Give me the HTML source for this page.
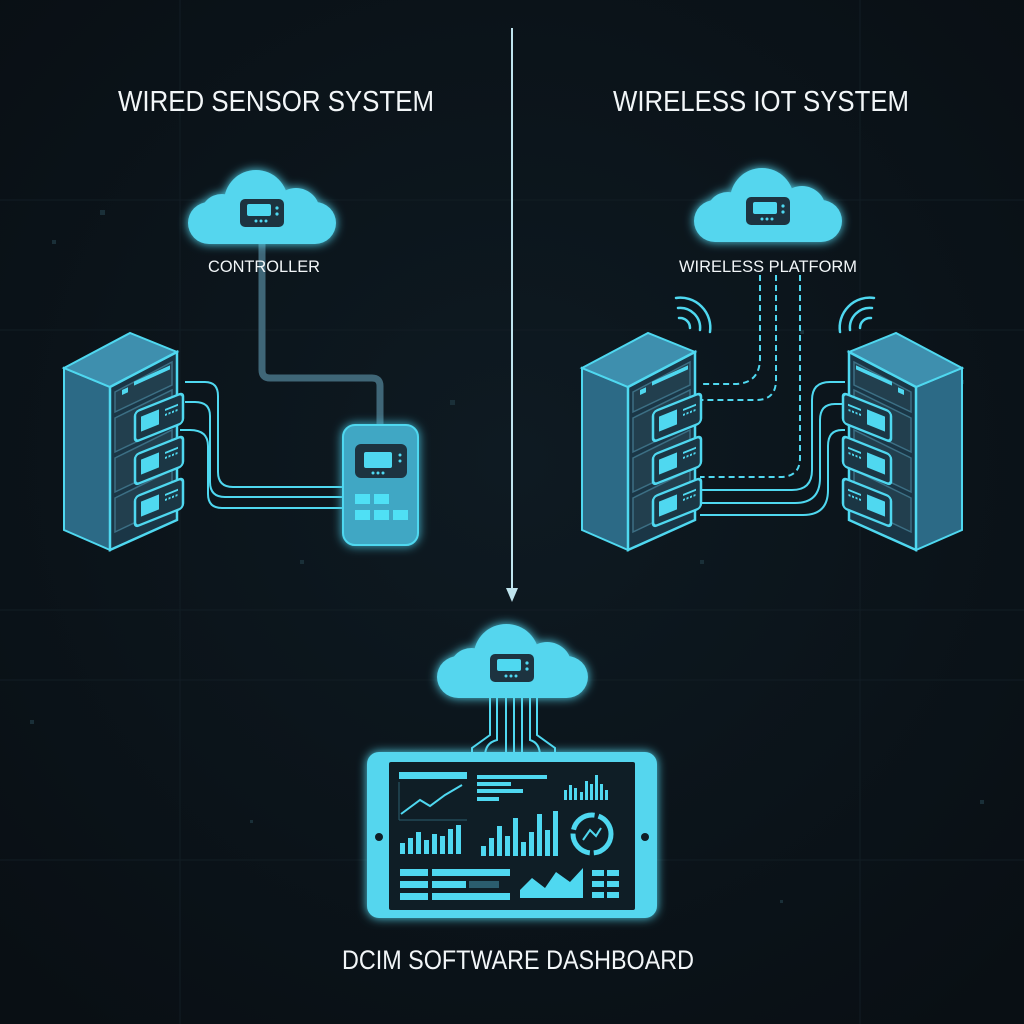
<!DOCTYPE html>
<html><head><meta charset="utf-8"><style>
html,body{margin:0;padding:0;background:#0a1117;}
svg{display:block;}
text{font-family:"Liberation Sans",sans-serif;fill:#f2f6f8;}
</style></head><body>
<svg width="1024" height="1024" viewBox="0 0 1024 1024" xmlns="http://www.w3.org/2000/svg">
<defs>
<radialGradient id="bg" cx="50%" cy="45%" r="70%"><stop offset="0" stop-color="#0e1a22"/><stop offset="1" stop-color="#090f14"/></radialGradient>
<filter id="glow" x="-30%" y="-30%" width="160%" height="160%"><feGaussianBlur stdDeviation="5" result="b"/><feMerge><feMergeNode in="b"/><feMergeNode in="SourceGraphic"/></feMerge></filter>
<g id="dev">
 <rect x="-22" y="-14" width="44" height="28" rx="5" fill="#1d3340"/>
 <rect x="-15" y="-9" width="24" height="12" rx="2" fill="#4fd8f0"/>
 <circle cx="15" cy="-5" r="1.6" fill="#4fd8f0"/><circle cx="15" cy="1" r="1.6" fill="#4fd8f0"/>
 <circle cx="-6" cy="8" r="1.5" fill="#4fd8f0"/><circle cx="-1" cy="8" r="1.5" fill="#4fd8f0"/><circle cx="4" cy="8" r="1.5" fill="#4fd8f0"/>
</g>
<g id="cloud" fill="#55d6ee">
 <rect x="0" y="34" width="148" height="42" rx="21"/>
 <circle cx="68" cy="34" r="32"/>
 <circle cx="108" cy="44" r="24"/>
 <circle cx="34" cy="48" r="22"/>
</g>
<g id="module">
 <rect x="0" y="0" width="48" height="30" rx="4" fill="#1b3644" stroke="#4fd8f0" stroke-width="2.5"/>
 <rect x="6" y="7" width="18" height="15" fill="#4fd8f0"/>
 <line x1="30" y1="10" x2="43" y2="10" stroke="#4fd8f0" stroke-width="2"/>
 <line x1="30" y1="15" x2="43" y2="15" stroke="#4fd8f0" stroke-width="2" stroke-dasharray="2 1.5"/>
</g>
<g id="rack">
 <polygon points="64,368 110,387 110,550 64,530" fill="#2c6a86" stroke="#4fd8f0" stroke-width="2"/>
 <polygon points="64,368 130,333 177,352 110,387" fill="#3e8fae" stroke="#4fd8f0" stroke-width="2"/>
 <polygon points="110,387 177,352 177,520 110,550" fill="#1a3646" stroke="#4fd8f0" stroke-width="2.5"/>
 <g stroke="#3c6f84" stroke-width="1.5" fill="#223f4e">
  <polygon points="115,392 172,362 172,385 115,412"/>
  <polygon points="115,418 172,390 172,425 115,452"/>
  <polygon points="115,458 172,430 172,465 115,492"/>
  <polygon points="115,498 172,470 172,505 115,532"/>
 </g>
 <g transform="translate(122,390) matrix(1,-0.45,0,1,0,0)"><rect x="0" y="0" width="6" height="5" fill="#4fd8f0"/><rect x="12" y="-3" width="36" height="4" fill="#4fd8f0"/></g>
 <g transform="translate(135,412) matrix(1,-0.4,0,1,0,0)"><use href="#module"/></g>
 <g transform="translate(135,455) matrix(1,-0.4,0,1,0,0)"><use href="#module"/></g>
 <g transform="translate(135,497) matrix(1,-0.4,0,1,0,0)"><use href="#module"/></g>
</g>
</defs>
<rect width="1024" height="1024" fill="url(#bg)"/>
<g stroke="#121d24" stroke-width="1">
 <line x1="0" y1="200" x2="1024" y2="200"/><line x1="0" y1="330" x2="1024" y2="330"/><line x1="0" y1="610" x2="1024" y2="610"/><line x1="0" y1="680" x2="1024" y2="680"/><line x1="0" y1="860" x2="1024" y2="860"/>
 <line x1="180" y1="0" x2="180" y2="1024"/><line x1="860" y1="0" x2="860" y2="1024"/>
</g>
<g fill="#1a2f38">
 <rect x="100" y="210" width="5" height="5"/><rect x="52" y="240" width="4" height="4"/><rect x="450" y="400" width="5" height="5"/><rect x="800" y="330" width="4" height="4"/><rect x="960" y="380" width="4" height="4"/><rect x="300" y="560" width="4" height="4"/><rect x="700" y="560" width="4" height="4"/><rect x="30" y="720" width="4" height="4"/><rect x="980" y="800" width="4" height="4"/><rect x="250" y="820" width="3" height="3"/><rect x="780" y="900" width="3" height="3"/>
</g>

<line x1="512" y1="28" x2="512" y2="590" stroke="#bfe4ee" stroke-width="2"/>
<polygon points="506,588 518,588 512,602" fill="#bfe4ee"/>

<text x="276" y="111" font-size="29" text-anchor="middle" textLength="316" lengthAdjust="spacingAndGlyphs">WIRED SENSOR SYSTEM</text>
<text x="761" y="111" font-size="29" text-anchor="middle" textLength="296" lengthAdjust="spacingAndGlyphs">WIRELESS IOT SYSTEM</text>

<path d="M262,240 V370 Q262,378 270,378 H372 Q380,378 380,386 V428" fill="none" stroke="#3f6677" stroke-width="7"/>
<g filter="url(#glow)"><use href="#cloud" transform="translate(188,168)"/></g>
<use href="#dev" transform="translate(262,213)"/>
<text x="264" y="272" font-size="17" text-anchor="middle" textLength="112" lengthAdjust="spacingAndGlyphs">CONTROLLER</text>

<g fill="none" stroke="#4fd8f0" stroke-width="2">
 <path d="M185,382 H205 Q218,382 218,396 V472 Q218,487 233,487 H345"/>
 <path d="M185,402 H195 Q210,402 210,416 V482 Q210,497 225,497 H345"/>
 <path d="M180,430 H190 Q208,430 208,446 V494 Q208,508 222,508 H345"/>
</g>
<use href="#rack"/>
<g filter="url(#glow)">
 <rect x="343" y="425" width="75" height="120" rx="12" fill="#3fa7c4" stroke="#4fd8f0" stroke-width="2"/>
</g>
<rect x="355" y="444" width="52" height="34" rx="6" fill="#1d3340"/>
<rect x="364" y="452" width="28" height="16" rx="2" fill="#4fd8f0"/>
<circle cx="400" cy="455" r="1.5" fill="#4fd8f0"/><circle cx="400" cy="461" r="1.5" fill="#4fd8f0"/>
<circle cx="373" cy="473" r="1.5" fill="#4fd8f0"/><circle cx="378" cy="473" r="1.5" fill="#4fd8f0"/><circle cx="383" cy="473" r="1.5" fill="#4fd8f0"/>
<g fill="#4fe0f5">
 <rect x="355" y="494" width="15" height="10"/><rect x="374" y="494" width="15" height="10"/>
 <rect x="355" y="510" width="15" height="10"/><rect x="374" y="510" width="15" height="10"/><rect x="393" y="510" width="15" height="10"/>
</g>

<g filter="url(#glow)"><use href="#cloud" transform="translate(694,166)"/></g>
<use href="#dev" transform="translate(768,211)"/>
<text x="768" y="272" font-size="17" text-anchor="middle" textLength="178" lengthAdjust="spacingAndGlyphs">WIRELESS PLATFORM</text>
<g fill="none" stroke="#4fd8f0" stroke-width="2" stroke-dasharray="6 4">
 <path d="M760,275 V358 Q760,384 734,384 H700"/>
 <path d="M776,275 V380 Q776,400 756,400 H700"/>
</g>
<g fill="none" stroke="#4fd8f0" stroke-width="2">
 <path d="M800,275 V458 Q800,477 780,477 H700" stroke-dasharray="6 4"/>
 <path d="M845,382 H830 Q812,382 812,400 V470 Q812,490 792,490 H700"/>
 <path d="M845,404 H835 Q820,404 820,420 V478 Q820,503 795,503 H700"/>
 <path d="M845,430 H842 Q828,430 828,446 V490 Q828,515 803,515 H700"/>
</g>
<use href="#rack" transform="translate(518,0)"/>
<use href="#rack" transform="translate(1026,0) scale(-1,1)"/>
<g fill="none" stroke="#4fd8f0" stroke-width="2.5" stroke-linecap="round">
 <path d="M679,318 A10,10 0 0 1 690,328"/><path d="M678,308 A20,20 0 0 1 700,330"/><path d="M676,298 A30,30 0 0 1 710,332"/>
 <path d="M860,328 A10,10 0 0 1 871,318"/><path d="M850,330 A20,20 0 0 1 872,308"/><path d="M840,332 A30,30 0 0 1 874,298"/>
</g>

<g fill="none" stroke="#4fd8f0" stroke-width="2">
 <path d="M490,690 V735 L472,748 V756"/>
 <path d="M497,690 V740 Q485,743 485,756"/>
 <path d="M506,690 V756"/><path d="M514,690 V756"/><path d="M522,690 V756"/>
 <path d="M530,690 V740 Q540,743 540,756"/>
 <path d="M537,690 V735 L555,748 V756"/>
</g>
<g filter="url(#glow)"><use href="#cloud" transform="translate(437,622) scale(1.02,1)"/></g>
<use href="#dev" transform="translate(512,668)"/>

<g filter="url(#glow)"><rect x="367" y="752" width="290" height="166" rx="12" fill="#55d6ee"/></g>
<rect x="389" y="762" width="246" height="148" rx="2" fill="#0f1e26"/>
<circle cx="379" cy="837" r="4" fill="#0f1e26"/><circle cx="645" cy="837" r="4" fill="#0f1e26"/>
<g fill="#4fd8f0">
 <rect x="399" y="772" width="68" height="7"/>
 <rect x="477" y="775" width="70" height="4"/><rect x="477" y="782" width="34" height="4"/><rect x="477" y="789" width="46" height="4"/><rect x="477" y="797" width="22" height="4"/>
 <rect x="564" y="790" width="3" height="10"/><rect x="569" y="785" width="3" height="15"/><rect x="574" y="788" width="3" height="12"/><rect x="580" y="792" width="3" height="8"/><rect x="585" y="781" width="3" height="19"/><rect x="590" y="784" width="3" height="16"/><rect x="595" y="775" width="3" height="25"/><rect x="600" y="784" width="3" height="16"/><rect x="605" y="790" width="3" height="10"/>
 <rect x="400" y="843" width="5" height="11"/><rect x="408" y="838" width="5" height="16"/><rect x="416" y="832" width="5" height="22"/><rect x="424" y="840" width="5" height="14"/><rect x="432" y="834" width="5" height="20"/><rect x="440" y="836" width="5" height="18"/><rect x="448" y="829" width="5" height="25"/><rect x="456" y="825" width="5" height="29"/>
 <rect x="481" y="846" width="5" height="10"/><rect x="489" y="838" width="5" height="18"/><rect x="497" y="826" width="5" height="30"/><rect x="505" y="836" width="5" height="20"/><rect x="513" y="818" width="5" height="38"/><rect x="521" y="842" width="5" height="14"/><rect x="529" y="832" width="5" height="24"/><rect x="537" y="814" width="5" height="42"/><rect x="545" y="830" width="5" height="26"/><rect x="553" y="811" width="5" height="45"/>
 <rect x="400" y="869" width="28" height="7"/><rect x="432" y="869" width="78" height="7"/>
 <rect x="400" y="881" width="28" height="7"/><rect x="432" y="881" width="34" height="7"/><rect x="469" y="881" width="30" height="7" fill="#2b5d6e"/>
 <rect x="400" y="893" width="28" height="7"/><rect x="432" y="893" width="78" height="7"/>
 <polygon points="520,898 520,890 532,878 545,888 556,872 570,882 583,868 583,898"/>
 <rect x="592" y="870" width="12" height="6"/><rect x="607" y="870" width="12" height="6"/><rect x="592" y="881" width="12" height="6"/><rect x="607" y="881" width="12" height="6"/><rect x="592" y="892" width="12" height="6"/><rect x="607" y="892" width="12" height="6"/>
</g>
<polyline points="401,814 420,800 430,806 445,795 462,785" fill="none" stroke="#4fd8f0" stroke-width="2"/>
<line x1="399" y1="782" x2="399" y2="820" stroke="#2b5d6e" stroke-width="1"/>
<line x1="399" y1="820" x2="467" y2="820" stroke="#2b5d6e" stroke-width="1"/>
<circle cx="592" cy="834" r="19" fill="none" stroke="#4fd8f0" stroke-width="5" stroke-dasharray="28 4"/>
<path d="M583,840 L590,830 L596,836 L601,828" fill="none" stroke="#4fd8f0" stroke-width="2"/>

<text x="518" y="969" font-size="27" text-anchor="middle" textLength="352" lengthAdjust="spacingAndGlyphs">DCIM SOFTWARE DASHBOARD</text>
</svg>
</body></html>
